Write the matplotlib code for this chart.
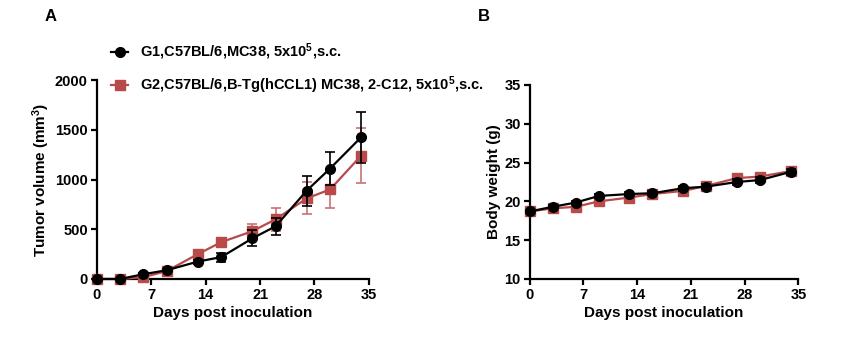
import matplotlib
matplotlib.use("Agg")
import matplotlib.pyplot as plt
from matplotlib import font_manager
from matplotlib.lines import Line2D

names = {f.name for f in font_manager.fontManager.ttflist}
narrow = 'Liberation Sans Narrow' if 'Liberation Sans Narrow' in names else 'Liberation Sans'

plt.rcParams['font.family'] = ['Liberation Sans', 'DejaVu Sans']
plt.rcParams['font.weight'] = 'bold'
plt.rcParams['mathtext.fontset'] = 'custom'
plt.rcParams['mathtext.rm'] = 'Liberation Sans:bold'
plt.rcParams['mathtext.bf'] = 'Liberation Sans:bold'
plt.rcParams['mathtext.it'] = 'Liberation Sans:bold'

# ---- data ----
days = [0, 3, 6, 9, 13, 16, 20, 23, 27, 30, 34]
g1_label = "G1,C57BL/6,MC38, 5x10$^5$,s.c."
g2_label = "G2,C57BL/6,B-Tg(hCCL1) MC38, 2-C12, 5x10$^5$,s.c."

g1_tumor = [0, 0, 48, 88, 175, 220, 408, 530, 888, 1110, 1425]
g1_tumor_err = [0, 3, 8, 12, 20, 45, 80, 88, 150, 165, 255]
g2_tumor = [0, 0, 18, 80, 250, 370, 480, 600, 810, 900, 1240]
g2_tumor_err = [0, 3, 6, 10, 20, 28, 75, 115, 160, 190, 275]

g1_weight = [18.7, 19.3, 19.85, 20.7, 20.95, 21.05, 21.7, 21.9, 22.5, 22.75, 23.8]
g1_weight_err = [0.2, 0.2, 0.25, 0.3, 0.25, 0.25, 0.3, 0.3, 0.35, 0.4, 0.35]
g2_weight = [18.7, 19.1, 19.3, 20.0, 20.5, 20.95, 21.35, 22.0, 23.0, 23.2, 23.9]
g2_weight_err = [0.2, 0.25, 0.3, 0.45, 0.35, 0.3, 0.3, 0.3, 0.3, 0.35, 0.3]

xticks = [0, 7, 14, 21, 28, 35]
tumor_yticks = [0, 500, 1000, 1500, 2000]
weight_yticks = [10, 15, 20, 25, 30, 35]

black = '#000000'
red = '#B84A4A'

fig = plt.figure(figsize=(8.64, 3.58), dpi=100)
axA = fig.add_axes([0.112, 0.2207, 0.315, 0.5558])
axB = fig.add_axes([0.613, 0.2207, 0.311, 0.5419])


def draw(ax, y1, e1, y2, e2):
    ax.errorbar(days, y2, yerr=e2, color=red, ecolor=(0.78, 0.45, 0.45), lw=1.6,
                marker='s', ms=7, capsize=3.5, elinewidth=1.2, capthick=1.2,
                clip_on=False, zorder=3)
    ax.errorbar(days, y1, yerr=e1, color=black, lw=1.6, marker='o', ms=7,
                capsize=3.5, elinewidth=1.2, capthick=1.2, clip_on=False, zorder=4)
    for s in ['top', 'right']:
        ax.spines[s].set_visible(False)
    for s in ['left', 'bottom']:
        ax.spines[s].set_linewidth(1.6)
    ax.tick_params(direction='out', length=4, width=1.6, labelsize=10.5, pad=2.5)
    ax.set_xlim(0, 35)
    ax.set_xticks(xticks)
    for lab in ax.get_xticklabels() + ax.get_yticklabels():
        lab.set_family(narrow)
        lab.set_fontweight('bold')
    ax.set_xlabel('Days post inoculation', fontsize=11, fontweight='bold', labelpad=3)


draw(axA, g1_tumor, g1_tumor_err, g2_tumor, g2_tumor_err)
axA.set_ylim(0, 2000)
axA.set_yticks(tumor_yticks)
axA.set_yticklabels([str(v) for v in tumor_yticks], family=narrow, fontweight='bold')
axA.set_ylabel('Tumor volume (mm$^3$)', fontsize=11, fontweight='bold', labelpad=2)

draw(axB, g1_weight, g1_weight_err, g2_weight, g2_weight_err)
axB.set_ylim(10, 35)
axB.set_yticks(weight_yticks)
axB.set_yticklabels([str(v) for v in weight_yticks], family=narrow, fontweight='bold')
axB.set_ylabel('Body weight (g)', fontsize=11, fontweight='bold', labelpad=2)

h1 = Line2D([], [], color=black, lw=1.6, marker='o', ms=7)
h2 = Line2D([], [], color=red, lw=1.6, marker='s', ms=7)
fig.legend([h1, h2], [g1_label, g2_label], loc='upper left',
           bbox_to_anchor=(0.122, 0.9), frameon=False, fontsize=10.5,
           handlelength=1.15, handletextpad=0.85, labelspacing=0.85, borderaxespad=0)

fig.text(0.052, 0.955, 'A', fontsize=12, fontweight='bold', va='center', ha='left')
fig.text(0.553, 0.955, 'B', fontsize=12, fontweight='bold', va='center', ha='left')

fig.savefig('out.png', dpi=100)
